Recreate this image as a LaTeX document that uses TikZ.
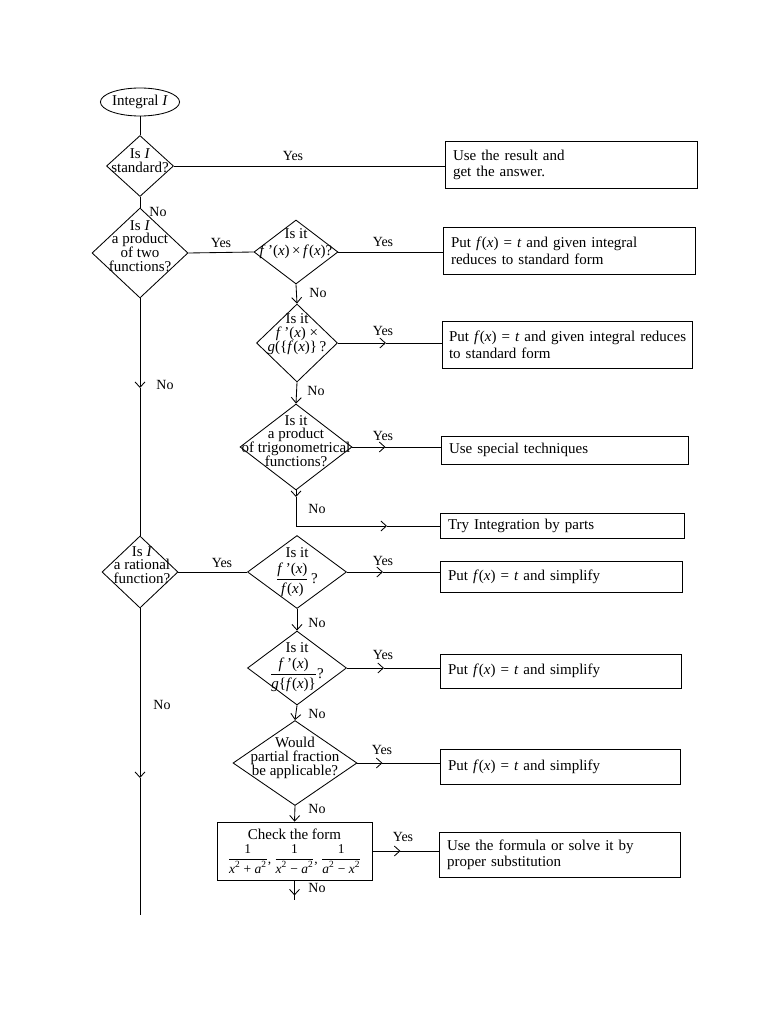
\documentclass[tikz,border=0pt]{standalone}
\usepackage{fontspec}
\setmainfont{Liberation Serif}
\usetikzlibrary{shapes.geometric,arrows.meta,calc}
\newcommand{\ii}[1]{\textit{#1}}
\newcommand{\fx}{\ii{f}(\ii{x})}
\newcommand{\fpx}{\ii{f}\,’(\ii{x})}
\newcommand{\mfrac}[2]{$\displaystyle\frac{\mbox{#1}}{\mbox{#2}}$}
\begin{document}
\begin{tikzpicture}[x=1pt,y=-1pt, line width=0.85pt,
 every node/.style={font=\fontsize{15}{13.8}\selectfont},
 dia/.style={draw, diamond, inner sep=0pt},
 txt/.style={align=center, inner sep=0pt},
 res/.style={draw, align=left, inner xsep=8pt, inner ysep=0pt, font=\fontsize{15}{16.5}\selectfont},
 arr/.style={-{Straight Barb[length=5.5pt,width=10pt]}},
 lab/.style={inner sep=0pt, font=\fontsize{14}{14}\selectfont}]
\fill[white] (0,0) rectangle (768,1024);
\useasboundingbox (0,0) rectangle (768,1024);

% start
\node[draw, ellipse, inner sep=0pt, minimum width=79pt, minimum height=28pt] (st) at (140,102) {Integral \ii{I}};

% diamonds
\node[dia, minimum width=67pt, minimum height=61pt] (d1) at (140,166) {};
\node[txt] (t1) at (140,161) {Is \ii{I}\\standard?};
\node[dia, minimum width=96pt, minimum height=90pt] (d2) at (140,253) {};
\node[txt] (t2) at (140,246) {Is \ii{I}\\a product\\of two\\functions?};
\node[dia, minimum width=84pt, minimum height=64pt] (d3) at (296,252) {};
\node[txt] (t3) at (296,244) {Is it\\[3pt]\fpx\,×\,\fx?};
\node[dia, minimum width=81pt, minimum height=78pt] (d4) at (297,343) {};
\node[txt] (t4) at (297,334) {Is it\\\fpx\ ×\\\ii{g}(\{\fx\}\,?};
\node[dia, minimum width=112pt, minimum height=86pt] (d5) at (296,447) {};
\node[txt] (t5) at (296,441) {Is it\\a product\\of trigonometrical\\functions?};
\node[dia, minimum width=76pt, minimum height=72pt] (d6) at (140,572) {};
\node[txt] (t6) at (142,565) {Is \ii{I}\\a rational\\function?};
\node[dia, minimum width=99pt, minimum height=73pt] (d7) at (297,572) {};
\node[txt] (t7) at (297,572) {Is it\\[4pt]\mfrac{\fpx}{\fx}\,?};
\node[dia, minimum width=99pt, minimum height=74pt] (d8) at (297,668) {};
\node[txt] (t8) at (297,667) {Is it\\[4pt]\mfrac{\fpx}{\ii{g}\{\fx\}}?};
\node[dia, minimum width=124pt, minimum height=85pt] (d9) at (295,763) {};
\node[txt] (t9) at (295,758) {Would\\partial fraction\\be applicable?};
\node[draw, txt, minimum width=155pt, minimum height=58pt] (r9) at (294.5,851)
  {Check the form\\[4pt]{\fontsize{13.5}{13.5}\selectfont\mfrac{1}{\ii{x}\textsuperscript{2} + \ii{a}\textsuperscript{2}},
   \mfrac{1}{\ii{x}\textsuperscript{2} − \ii{a}\textsuperscript{2}},
   \mfrac{1}{\ii{a}\textsuperscript{2} − \ii{x}\textsuperscript{2}}}};

% result boxes
\node[res, minimum width=252pt, minimum height=47pt, text width=236pt] (b1) at (571,165) {Use the result and\\get the answer.};
\node[res, minimum width=252pt, minimum height=47pt, text width=236pt] (b2) at (569,251) {Put \fx\ = \ii{t} and given integral\\reduces to standard form};
\node[res, minimum width=250pt, minimum height=47pt, text width=236pt, inner xsep=7pt] (b3) at (567,345) {\mbox{Put \fx\ = \ii{t} and given integral reduces}\\to standard form};
\node[res, minimum width=247pt, minimum height=28pt, text width=231pt] (b4) at (564.5,450) {Use special techniques};
\node[res, minimum width=244pt, minimum height=25pt, text width=228pt] (b5) at (562,526) {Try Integration by parts};
\node[res, minimum width=242pt, minimum height=31pt, text width=226pt] (b6) at (561,577) {Put \fx\ = \ii{t} and simplify};
\node[res, minimum width=241pt, minimum height=34pt, text width=225pt] (b7) at (560.5,671) {Put \fx\ = \ii{t} and simplify};
\node[res, minimum width=240pt, minimum height=35pt, text width=224pt] (b8) at (560,767) {Put \fx\ = \ii{t} and simplify};
\node[res, minimum width=241pt, minimum height=45pt, text width=225pt] (b9) at (559.5,855) {Use the formula or solve it by\\proper substitution};

% connectors
\draw (st) -- (d1);
\draw (d1.south) -- (d2.north);
\draw (d1.east) -- (d1.east -| b1.west);
\draw (d2.east) -- (d3.west);
\draw (d3.east) -- (d3.east -| b2.west);
\draw[arr] (d3.south) -- (d4.north);
\coordinate (a4) at ($(d4.east)+(48,0)$);
\draw[arr] (d4.east) -- (a4);
\draw (a4) -- (d4.east -| b3.west);
\draw[arr] (d4.south) -- (d5.north);
\coordinate (a5) at ($(d5.east)+(33,0)$);
\draw[arr] (d5.east) -- (a5);
\draw (a5) -- (d5.east -| b4.west);
\coordinate (v5) at (296,497);
\coordinate (c5) at (296,526);
\coordinate (h5) at (387,526);
\draw[arr] (d5.south) -- (v5);
\draw[arr] (v5) -- (c5) -- (h5);
\draw (h5) -- (b5.west);
% main left line
\coordinate (m1) at (140,388);
\draw[arr] (d2.south) -- (m1);
\draw (m1) -- (d6.north);
\coordinate (m2) at (140,778);
\coordinate (mend) at (140,915);
\draw[arr] (d6.south) -- (m2);
\draw (m2) -- (mend);
% rational branch
\draw (d6.east) -- (d7.west);
\coordinate (a7) at ($(d7.east)+(36,0)$);
\draw[arr] (d7.east) -- (a7);
\draw (a7) -- (d7.east -| b6.west);
\draw[arr] (d7.south) -- (d8.north);
\coordinate (a8) at ($(d8.east)+(37,0)$);
\draw[arr] (d8.east) -- (a8);
\draw (a8) -- (d8.east -| b7.west);
\draw[arr] (d8.south) -- (d9.north);
\coordinate (a9) at ($(d9.east)+(25,0)$);
\draw[arr] (d9.east) -- (a9);
\draw (a9) -- (d9.east -| b8.west);
\draw[arr] (d9.south) -- (r9.north);
\coordinate (a10) at ($(r9.east)+(28,0)$);
\draw[arr] (r9.east) -- (a10);
\draw (a10) -- (r9.east -| b9.west);
\coordinate (r9a) at ($(r9.south)+(0,15)$);
\coordinate (rend) at (294.5,900);
\draw[arr] (r9.south) -- (r9a);
\draw (r9a) -- (rend);

% labels
\node[lab] (y1) at (293,156) {Yes};
\node[lab] (y2) at (221,243) {Yes};
\node[lab] (y3) at (383,242) {Yes};
\node[lab] (y4) at (383,331) {Yes};
\node[lab] (y5) at (383,436) {Yes};
\node[lab] (y6) at (222,563) {Yes};
\node[lab] (y7) at (383,561) {Yes};
\node[lab] (y8) at (383,655) {Yes};
\node[lab] (y9) at (382,750) {Yes};
\node[lab] (y10) at (403,837) {Yes};
\node[lab] (n1) at (158,212) {No};
\node[lab] (n2) at (318,293) {No};
\node[lab] (n3) at (316,391) {No};
\node[lab] (n4) at (317,509) {No};
\node[lab] (n5) at (165,385) {No};
\node[lab] (n6) at (317,623) {No};
\node[lab] (n7) at (317,714) {No};
\node[lab] (n8) at (317,809) {No};
\node[lab] (n9) at (317,888) {No};
\node[lab] (n10) at (162,705) {No};
\end{tikzpicture}
\end{document}
